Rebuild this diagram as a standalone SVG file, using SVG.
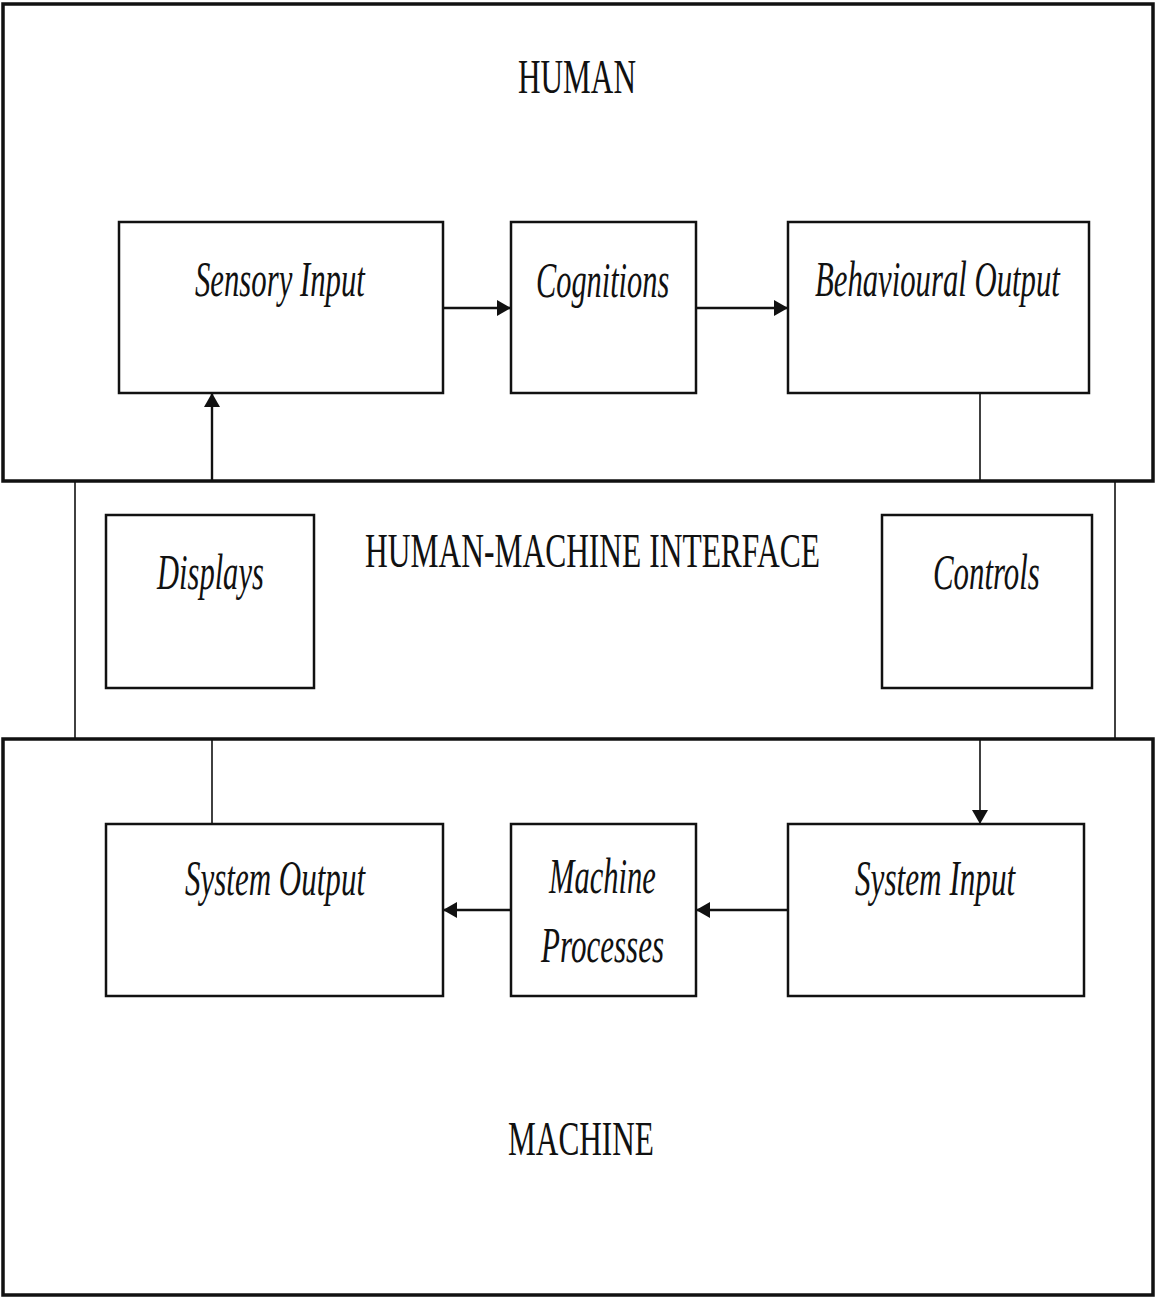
<svg xmlns="http://www.w3.org/2000/svg" width="1156" height="1298" viewBox="0 0 1156 1298">
<style>
.outer{fill:none;stroke:#111;stroke-width:3.5}
.box{fill:#fff;stroke:#111;stroke-width:2.5}
.thin{stroke:#111;stroke-width:1.6;fill:none}
.conn{stroke:#111;stroke-width:2.4;fill:none}
.t{font-family:"Liberation Serif","Times New Roman",serif;fill:#111;text-anchor:start}
.title{font-size:48px}
.lbl{font-size:50px;font-style:italic}
</style>
<defs>
<marker id="ah" viewBox="0 0 14 16" refX="14" refY="8" markerWidth="14" markerHeight="16" orient="auto" markerUnits="userSpaceOnUse">
<path d="M0,0 L14,8 L0,16 z" fill="#111"/>
</marker>
</defs>
<rect width="1156" height="1298" fill="#fff"/>
<g id="interface">
<line class="thin" x1="75" y1="481" x2="75" y2="739"/>
<line class="thin" x1="1115" y1="481" x2="1115" y2="739"/>
<text class="t title" transform="translate(365,567) scale(0.65,1)" textLength="700" lengthAdjust="spacingAndGlyphs">HUMAN-MACHINE INTERFACE</text>
</g>
<g id="human">
<rect class="outer" x="3" y="4" width="1150" height="477"/>
<text class="t title" transform="translate(518,93) scale(0.65,1)" textLength="181.5" lengthAdjust="spacingAndGlyphs">HUMAN</text>
</g>
<g id="machine">
<rect class="outer" x="3" y="739" width="1150" height="556"/>
<text class="t title" transform="translate(508,1155) scale(0.65,1)" textLength="224.6" lengthAdjust="spacingAndGlyphs">MACHINE</text>
</g>
<g id="connectors">
<line class="conn" x1="443" y1="308" x2="511" y2="308" marker-end="url(#ah)"/>
<line class="conn" x1="696" y1="308" x2="788" y2="308" marker-end="url(#ah)"/>
<line class="conn" x1="212" y1="481" x2="212" y2="393" marker-end="url(#ah)"/>
<line class="thin" x1="980" y1="393" x2="980" y2="481"/>
<line class="thin" x1="212" y1="739" x2="212" y2="824"/>
<line class="thin" x1="980" y1="739" x2="980" y2="824" marker-end="url(#ah)"/>
<line class="conn" x1="788" y1="910" x2="696" y2="910" marker-end="url(#ah)"/>
<line class="conn" x1="511" y1="910" x2="443" y2="910" marker-end="url(#ah)"/>
</g>
<g id="sensory-input">
<rect class="box" x="119" y="222" width="324" height="171"/>
<text class="t lbl" transform="translate(195,296) scale(0.6,1)" textLength="283" lengthAdjust="spacingAndGlyphs">Sensory Input</text>
</g>
<g id="cognitions">
<rect class="box" x="511" y="222" width="185" height="171"/>
<text class="t lbl" transform="translate(536,297) scale(0.6,1)" textLength="222" lengthAdjust="spacingAndGlyphs">Cognitions</text>
</g>
<g id="behavioural-output">
<rect class="box" x="788" y="222" width="301" height="171"/>
<text class="t lbl" transform="translate(815,296) scale(0.6,1)" textLength="408" lengthAdjust="spacingAndGlyphs">Behavioural Output</text>
</g>
<g id="displays">
<rect class="box" x="106" y="515" width="208" height="173"/>
<text class="t lbl" transform="translate(157,589) scale(0.6,1)" textLength="178" lengthAdjust="spacingAndGlyphs">Displays</text>
</g>
<g id="controls">
<rect class="box" x="882" y="515" width="210" height="173"/>
<text class="t lbl" transform="translate(933,589) scale(0.6,1)" textLength="178" lengthAdjust="spacingAndGlyphs">Controls</text>
</g>
<g id="system-output">
<rect class="box" x="106" y="824" width="337" height="172"/>
<text class="t lbl" transform="translate(185,895) scale(0.6,1)" textLength="300" lengthAdjust="spacingAndGlyphs">System Output</text>
</g>
<g id="machine-processes">
<rect class="box" x="511" y="824" width="185" height="172"/>
<text class="t lbl" transform="translate(549,893) scale(0.6,1)" textLength="178" lengthAdjust="spacingAndGlyphs">Machine</text>
<text class="t lbl" transform="translate(541,962) scale(0.6,1)" textLength="205" lengthAdjust="spacingAndGlyphs">Processes</text>
</g>
<g id="system-input">
<rect class="box" x="788" y="824" width="296" height="172"/>
<text class="t lbl" transform="translate(855,895) scale(0.6,1)" textLength="267" lengthAdjust="spacingAndGlyphs">System Input</text>
</g>
</svg>
